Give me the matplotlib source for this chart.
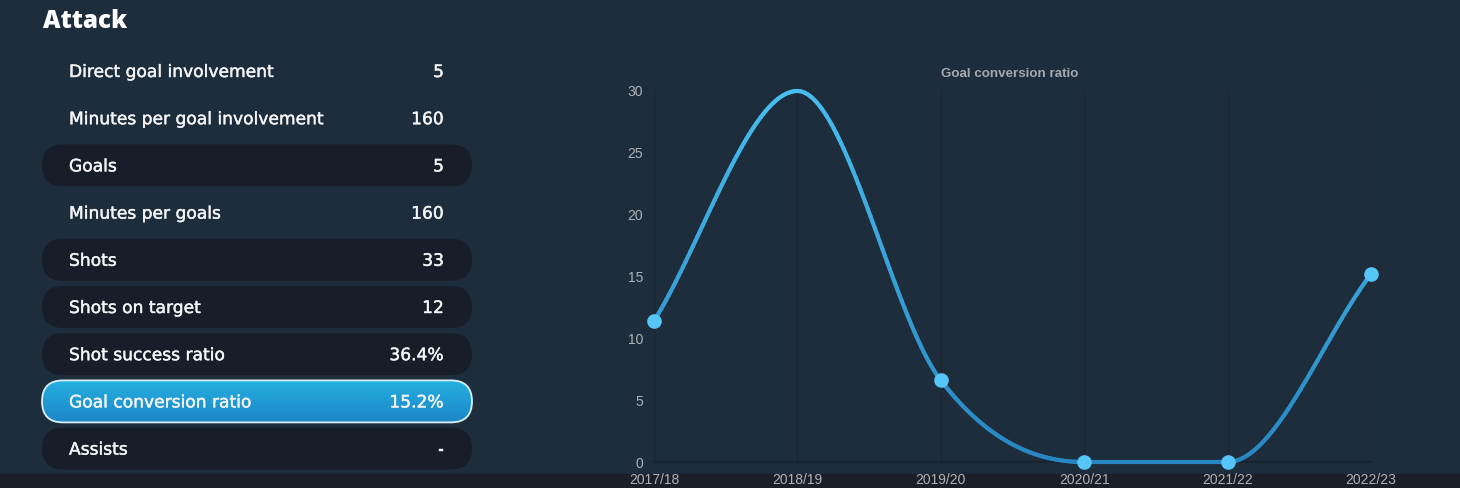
import numpy as np
import matplotlib
matplotlib.use("Agg")
from matplotlib import pyplot as plt
from matplotlib import patheffects
from matplotlib.patches import FancyBboxPatch, Rectangle
from matplotlib.collections import LineCollection
from matplotlib.colors import LinearSegmentedColormap

# data
row_labels = ["Direct goal involvement", "Minutes per goal involvement", "Goals",
              "Minutes per goals", "Shots", "Shots on target", "Shot success ratio",
              "Goal conversion ratio", "Assists"]
row_values = ["5", "160", "5", "160", "33", "12", "36.4%", "15.2%", "-"]
row_style = ["plain", "plain", "pill", "plain", "pill", "pill", "pill", "active", "pill"]

seasons = ["2017/18", "2018/19", "2019/20", "2020/21", "2021/22", "2022/23"]
conversion = [11.4, 30, 6.6, 0, 0, 15.2]

BG = "#1e2d3b"
PILL = "#181e29"
GRID = "#1a2734"
TICK = "#aeb3b8"
TXT = "#f2f4f6"

plt.rcParams['font.family'] = ['Open Sans', 'DejaVu Sans']


def monotone(x, y, n=60):
    # monotone cubic (Fritsch-Carlson), same idea as chart.js "monotone"
    x = np.asarray(x, float)
    y = np.asarray(y, float)
    h = np.diff(x)
    d = np.diff(y) / h
    m = np.zeros(len(x))
    m[0], m[-1] = d[0], d[-1]
    for k in range(1, len(x) - 1):
        if d[k - 1] * d[k] > 0:
            m[k] = (d[k - 1] + d[k]) / 2
    for k in range(len(d)):
        if d[k] == 0:
            m[k] = m[k + 1] = 0
            continue
        a, b = m[k] / d[k], m[k + 1] / d[k]
        s = a * a + b * b
        if s > 9:
            t = 3 / np.sqrt(s)
            m[k], m[k + 1] = t * a * d[k], t * b * d[k]
    xs, ys = [], []
    for k in range(len(d)):
        t = np.linspace(0, 1, n)
        h00 = 2 * t**3 - 3 * t**2 + 1
        h10 = t**3 - 2 * t**2 + t
        h01 = -2 * t**3 + 3 * t**2
        h11 = t**3 - t**2
        xs.append(x[k] + t * h[k])
        ys.append(h00 * y[k] + h10 * h[k] * m[k] + h01 * y[k + 1] + h11 * h[k] * m[k + 1])
    return np.concatenate(xs), np.concatenate(ys)


fig = plt.figure(figsize=(14.6, 4.88), dpi=100)
fig.patch.set_facecolor(BG)

# left panel, drawn in pixel units
bg = fig.add_axes([0, 0, 1, 1])
bg.set_xlim(0, 1460)
bg.set_ylim(488, 0)
bg.axis('off')
bg.add_patch(Rectangle((0, 474), 1460, 14, color="#1a1f29", zorder=0))

bg.text(43, 28, "Attack", color="white", fontsize=17.5, fontweight="heavy", va="baseline")

grad = np.linspace(0, 1, 64).reshape(-1, 1)
blue = LinearSegmentedColormap.from_list("b", ["#25b0e0", "#1d86c7"])
thick = [patheffects.withStroke(linewidth=0.3, foreground=TXT)]

for i, (lab, val, st) in enumerate(zip(row_labels, row_values, row_style)):
    cy = 71 + i * 47.2
    if st != "plain":
        box = FancyBboxPatch((42, cy - 21), 430, 42, boxstyle="round,pad=0,rounding_size=21",
                             facecolor=PILL if st == "pill" else "none",
                             edgecolor="#d8f0fa" if st == "active" else "none",
                             linewidth=1.3, zorder=1)
        bg.add_patch(box)
        if st == "active":
            im = bg.imshow(grad, cmap=blue, extent=[42, 472, cy + 21, cy - 21],
                           aspect="auto", zorder=0.9)
            im.set_clip_path(box)
    bg.text(69, cy + 6, lab, color=TXT, fontsize=12.3, va="baseline", zorder=2,
            family=["DejaVu Sans"], path_effects=thick)
    bg.text(444, cy + 6, val, color=TXT, fontsize=12.3, va="baseline", ha="right", zorder=2,
            family=["DejaVu Sans"], path_effects=thick)
bg.set_xlim(0, 1460)
bg.set_ylim(488, 0)

# line chart
ax = fig.add_axes([654 / 1460, 26 / 488, 717 / 1460, 371 / 488])
ax.set_facecolor("none")
x = np.arange(len(seasons))
ax.set_xlim(0, len(seasons) - 1)
ax.set_ylim(0, 30)
for xi in x:
    ax.axvline(xi, color=GRID, lw=1, zorder=0)
for s in ["top", "right", "left"]:
    ax.spines[s].set_visible(False)
ax.spines["bottom"].set_color("#18242f")
ax.spines["bottom"].set_linewidth(1.5)

xs, ys = monotone(x, conversion)
pts = np.column_stack([xs, ys]).reshape(-1, 1, 2)
segs = np.concatenate([pts[:-1], pts[1:]], axis=1)
line_cmap = LinearSegmentedColormap.from_list("l", ["#2886c2", "#48bdef"])
lc = LineCollection(segs, cmap=line_cmap, norm=plt.Normalize(0, 30), linewidth=3,
                    capstyle="round", joinstyle="round", zorder=3, clip_on=False)
lc.set_array((ys[:-1] + ys[1:]) / 2)
ax.add_collection(lc)
ax.plot(x, conversion, "o", color="#55c6f7", markersize=9.5, markevery=[0, 2, 3, 4, 5],
        zorder=4, clip_on=False)

ax.set_xticks(x)
ax.set_xticklabels(seasons)
ax.set_yticks(range(0, 31, 5))
ax.tick_params(length=0, colors=TICK, labelsize=10, pad=8)
for t in ax.get_xticklabels() + ax.get_yticklabels():
    t.set_family(["Liberation Sans", "DejaVu Sans"])
ax.set_title("Goal conversion ratio", color="#a3a9af", fontsize=9.6, fontweight="bold",
             family=["Liberation Sans", "DejaVu Sans"], pad=10, x=0.496)

plt.savefig("out.png", dpi=100, facecolor=BG)
